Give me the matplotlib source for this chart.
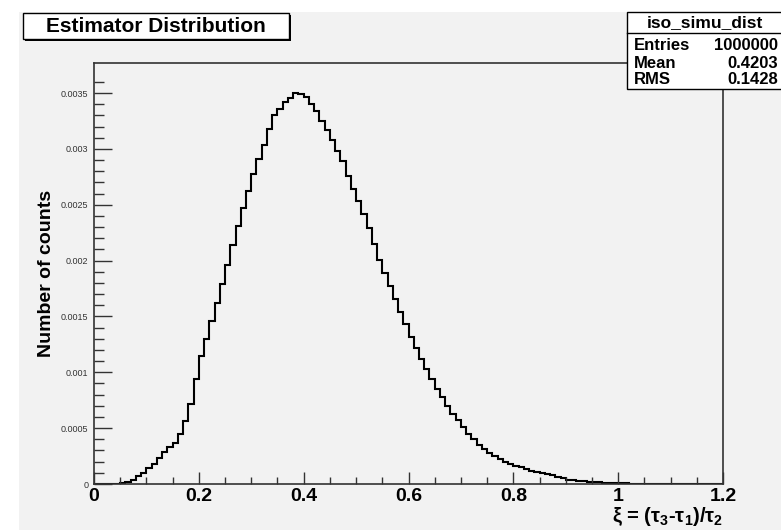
import numpy as np
import matplotlib
matplotlib.use("Agg")
from matplotlib import pyplot as plt
from matplotlib.patches import Rectangle

plt.rcParams['font.family'] = ['Liberation Sans', 'DejaVu Sans']
plt.rcParams['mathtext.fontset'] = 'custom'
plt.rcParams['mathtext.rm'] = 'Liberation Sans:bold'
plt.rcParams['mathtext.it'] = 'Liberation Sans:bold'
plt.rcParams['mathtext.bf'] = 'Liberation Sans:bold'
plt.rcParams['mathtext.default'] = 'rm'

# histogram, bins of 0.01 from 0 to 1.2
bin_edges = np.linspace(0, 1.2, 121)
counts = [
    0, 0, 0, 0, 0,
    0.000005, 0.00002, 0.00004, 0.00007, 0.0001,
    0.00014, 0.00018, 0.00023, 0.00029, 0.00033,
    0.00037, 0.00045, 0.00056, 0.00072, 0.00094,
    0.00115, 0.0013, 0.00146, 0.00162, 0.00179,
    0.00196, 0.00214, 0.00231, 0.00247, 0.00262,
    0.00278, 0.00291, 0.00304, 0.00318, 0.0033,
    0.00336, 0.00342, 0.00346, 0.0035, 0.00349,
    0.00347, 0.0034, 0.00334, 0.00325, 0.00317,
    0.00308, 0.00298, 0.00289, 0.00276, 0.00264,
    0.00253, 0.00242, 0.00229, 0.00215, 0.00201,
    0.00189, 0.00177, 0.00166, 0.00154, 0.00143,
    0.00132, 0.00122, 0.00112, 0.00103, 0.00094,
    0.00085, 0.00078, 0.0007, 0.00063, 0.00057,
    0.00051, 0.00045, 0.0004, 0.00035, 0.00031,
    0.00028, 0.00025, 0.00022, 0.0002, 0.00018,
    0.00016, 0.00015, 0.00013, 0.00012, 0.00011,
    0.0001, 0.00009, 0.00008, 0.00006, 0.00005,
    0.00004, 0.000035, 0.00003, 0.000025, 0.00002,
    0.00002, 0.000015, 0.000012, 0.00001, 0.000008,
    0.000006, 0.000005, 0.000004, 0.000003, 0.000002,
    0.000001, 0, 0, 0, 0,
    0, 0, 0, 0, 0, 0, 0, 0, 0, 0,
]

x_ticks = [0, 0.2, 0.4, 0.6, 0.8, 1, 1.2]
x_ticklabels = ["0", "0.2", "0.4", "0.6", "0.8", "1", "1.2"]
y_ticks = [0, 0.0005, 0.001, 0.0015, 0.002, 0.0025, 0.003, 0.0035]
y_ticklabels = ["0", "0.0005", "0.001", "0.0015", "0.002", "0.0025", "0.003", "0.0035"]

hist_name = "iso_simu_dist"
stat_names = ["Entries", "Mean", "RMS"]
stat_values = ["1000000", "0.4203", "0.1428"]

W, H = 781, 530
bg = "#f2f2f2"
fig = plt.figure(figsize=(W / 100, H / 100), dpi=100)
fig.patch.set_facecolor(bg)

# white margin on the left and top (outside the canvas)
fig.patches.append(Rectangle((0, 0), 19 / W, 1, transform=fig.transFigure,
                             facecolor="white", edgecolor="none", zorder=0))
fig.patches.append(Rectangle((0, 1 - 12 / H), 1, 12 / H, transform=fig.transFigure,
                             facecolor="white", edgecolor="none", zorder=0))

ax = fig.add_axes([94 / W, 46 / H, 629 / W, 421 / H])
ax.set_facecolor(bg)

ax.stairs(counts, bin_edges, color="black", lw=1.5)

ax.set_xlim(0, 1.2)
ax.set_ylim(0, 0.00377)
ax.set_xticks(x_ticks)
ax.set_xticklabels(x_ticklabels, fontsize=14, fontweight="bold")
ax.set_xticks(np.arange(0.05, 1.2, 0.05), minor=True)
ax.set_yticks(y_ticks)
ax.set_yticklabels(y_ticklabels, fontsize=6.5, color="#333333")
ax.set_yticks(np.arange(0.0001, 0.0037, 0.0001), minor=True)
ax.tick_params(axis="both", which="both", direction="in", color="#333333",
               top=False, right=False)
ax.tick_params(axis="x", which="major", length=9, width=1, pad=3)
ax.tick_params(axis="x", which="minor", length=5, width=1)
ax.tick_params(axis="y", which="major", length=13, width=1, pad=4)
ax.tick_params(axis="y", which="minor", length=7, width=1)
for s in ax.spines.values():
    s.set_color("#333333")
    s.set_linewidth(1.2)

ax.set_ylabel("Number of counts", fontsize=14, fontweight="bold")
ax.yaxis.set_label_coords(-0.062, 0.5)
ax.set_xlabel(r"ξ = (τ$_{3}$-τ$_{1}$)/τ$_{2}$", fontsize=14.5, fontweight="bold",
              ha="right")
ax.xaxis.set_label_coords(1.0, -0.05)

# title box with shadow
tx0, ty0, tw, th = 23, 13, 266, 26
fig.patches.append(Rectangle(((tx0 + 2) / W, 1 - (ty0 + th + 2) / H), tw / W, th / H,
                             transform=fig.transFigure, facecolor="black",
                             edgecolor="none", zorder=3))
fig.patches.append(Rectangle((tx0 / W, 1 - (ty0 + th) / H), tw / W, th / H,
                             transform=fig.transFigure, facecolor="white",
                             edgecolor="black", lw=1, zorder=4))
fig.text((tx0 + tw / 2) / W, 1 - (ty0 + th / 2 + 1) / H, "Estimator Distribution",
         fontsize=15, fontweight="bold", ha="center", va="center", zorder=5)

# stats box
sx0, sy0, sw, sh = 627, 12, 160, 77
fig.patches.append(Rectangle((sx0 / W, 1 - (sy0 + sh) / H), sw / W, sh / H,
                             transform=fig.transFigure, facecolor="white",
                             edgecolor="black", lw=1, zorder=4))
fig.add_artist(plt.Line2D([sx0 / W, 1], [1 - 33 / H, 1 - 33 / H],
                          transform=fig.transFigure, color="black", lw=1, zorder=5))
fig.text(705 / W, 1 - 23 / H, hist_name, fontsize=12.5, fontweight="bold",
         ha="center", va="center", zorder=6)
row_y = [45, 63, 80]
for name, val, yy in zip(stat_names, stat_values, row_y):
    fig.text(634 / W, 1 - yy / H, name, fontsize=12, fontweight="bold",
             ha="left", va="center", zorder=6)
    fig.text(778 / W, 1 - yy / H, val, fontsize=12, fontweight="bold",
             ha="right", va="center", zorder=6)

plt.savefig("out.png", dpi=100, facecolor=fig.get_facecolor())
